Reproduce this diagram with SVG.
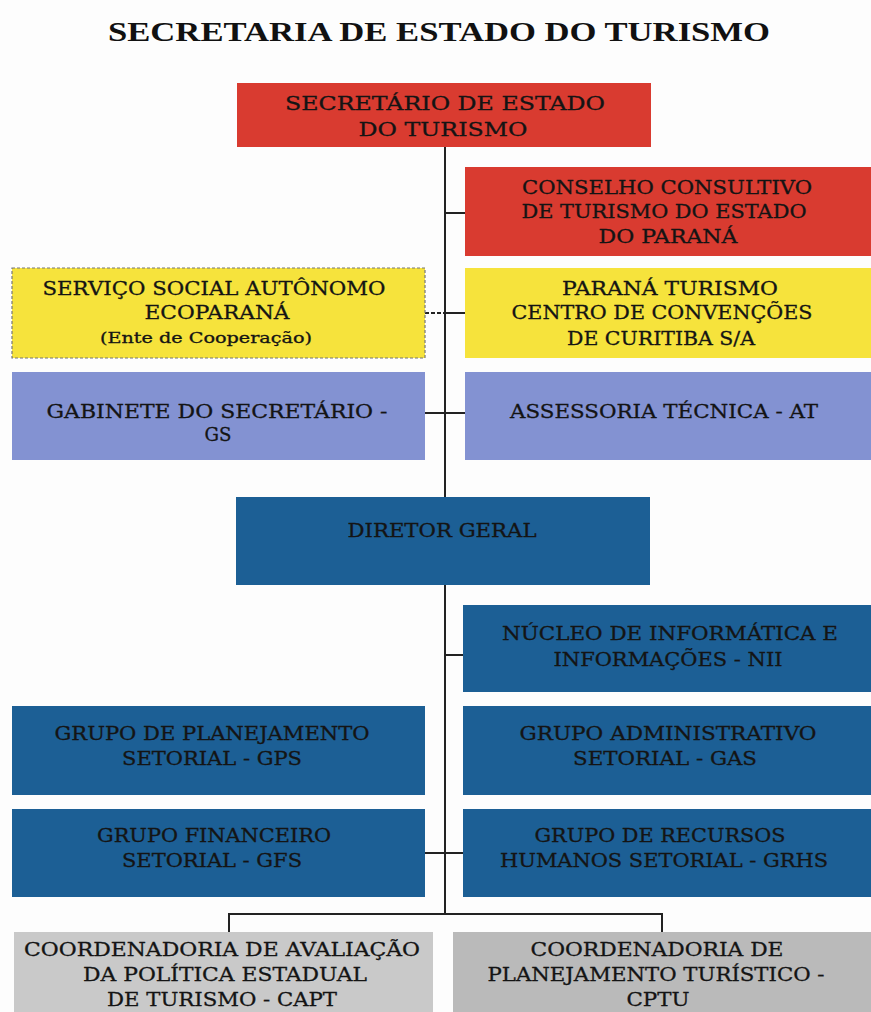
<svg xmlns="http://www.w3.org/2000/svg" width="871" height="1012" viewBox="0 0 871 1012">
<style>
.t{font-family:"DejaVu Serif","Liberation Serif",serif;font-size:19px;fill:#141414;text-anchor:middle;stroke:#141414;stroke-width:0.3}
.s{font-size:14px}
.title{font-family:"Liberation Serif","Times New Roman",serif;font-size:28px;font-weight:bold;fill:#111;text-anchor:middle}
.red{fill:#d93b30}
.yel{fill:#f6e33c}
.lav{fill:#8392d2}
.dbl{fill:#1c5f95}
.gr1{fill:#c9c9c9}
.gr2{fill:#bababa}
.ln{stroke:#222;stroke-width:2;fill:none}
</style>
<rect width="871" height="1012" fill="#fdfdfd"/>
<text class="title" x="439" y="41" textLength="662" lengthAdjust="spacingAndGlyphs">SECRETARIA DE ESTADO DO TURISMO</text>
<g id="connectors">
<line class="ln" x1="445" y1="147" x2="445" y2="497"/>
<line class="ln" x1="445" y1="213" x2="465" y2="213"/>
<line class="ln" x1="425" y1="313" x2="445" y2="313" stroke-dasharray="4,2"/>
<line class="ln" x1="445" y1="313" x2="465" y2="313"/>
<line class="ln" x1="425" y1="413" x2="465" y2="413"/>
<line class="ln" x1="445" y1="585" x2="445" y2="914"/>
<line class="ln" x1="445" y1="655" x2="463" y2="655"/>
<line class="ln" x1="425" y1="853" x2="463" y2="853"/>
<polyline class="ln" points="229,932 229,914 662,914 662,932"/>
</g>
<g id="secretario"><rect class="red" x="237" y="83" width="414" height="64"/>
<text class="t" x="445" y="110" textLength="320" lengthAdjust="spacingAndGlyphs">SECRETÁRIO DE ESTADO</text><text class="t" x="443" y="136" textLength="169" lengthAdjust="spacingAndGlyphs">DO TURISMO</text></g>
<g id="conselho"><rect class="red" x="465" y="167" width="406" height="89"/>
<text class="t" x="667" y="194" textLength="290" lengthAdjust="spacingAndGlyphs">CONSELHO CONSULTIVO</text><text class="t" x="664" y="218" textLength="285" lengthAdjust="spacingAndGlyphs">DE TURISMO DO ESTADO</text><text class="t" x="668" y="243" textLength="139" lengthAdjust="spacingAndGlyphs">DO PARANÁ</text></g>
<g id="ecoparana"><rect class="yel" x="12" y="268" width="413" height="90" stroke="#777" stroke-width="1.2" stroke-dasharray="3,2"/>
<text class="t" x="214" y="295" textLength="343" lengthAdjust="spacingAndGlyphs">SERVIÇO SOCIAL AUTÔNOMO</text><text class="t" x="217" y="319" textLength="145" lengthAdjust="spacingAndGlyphs">ECOPARANÁ</text><text class="t s" x="206" y="343" textLength="212" lengthAdjust="spacingAndGlyphs">(Ente de Cooperação)</text></g>
<g id="paranaturismo"><rect class="yel" x="465" y="268" width="406" height="90"/>
<text class="t" x="670" y="295" textLength="216" lengthAdjust="spacingAndGlyphs">PARANÁ TURISMO</text><text class="t" x="662" y="319" textLength="301" lengthAdjust="spacingAndGlyphs">CENTRO DE CONVENÇÕES</text><text class="t" x="661" y="345" textLength="188" lengthAdjust="spacingAndGlyphs">DE CURITIBA S/A</text></g>
<g id="gabinete"><rect class="lav" x="12" y="372" width="413" height="88"/>
<text class="t" x="217" y="418" textLength="341" lengthAdjust="spacingAndGlyphs">GABINETE DO SECRETÁRIO -</text><text class="t" x="218" y="441" textLength="27" lengthAdjust="spacingAndGlyphs">GS</text></g>
<g id="assessoria"><rect class="lav" x="465" y="372" width="406" height="88"/>
<text class="t" x="664" y="418" textLength="308" lengthAdjust="spacingAndGlyphs">ASSESSORIA TÉCNICA - AT</text></g>
<g id="diretor"><rect class="dbl" x="236" y="497" width="414" height="88"/>
<text class="t" x="442" y="537" textLength="189" lengthAdjust="spacingAndGlyphs">DIRETOR GERAL</text></g>
<g id="nii"><rect class="dbl" x="463" y="605" width="408" height="87"/>
<text class="t" x="670" y="640" textLength="336" lengthAdjust="spacingAndGlyphs">NÚCLEO DE INFORMÁTICA E</text><text class="t" x="668" y="666" textLength="229" lengthAdjust="spacingAndGlyphs">INFORMAÇÕES - NII</text></g>
<g id="gps"><rect class="dbl" x="12" y="706" width="413" height="89"/>
<text class="t" x="212" y="740" textLength="315" lengthAdjust="spacingAndGlyphs">GRUPO DE PLANEJAMENTO</text><text class="t" x="212" y="765" textLength="180" lengthAdjust="spacingAndGlyphs">SETORIAL - GPS</text></g>
<g id="gas"><rect class="dbl" x="463" y="706" width="408" height="89"/>
<text class="t" x="668" y="740" textLength="297" lengthAdjust="spacingAndGlyphs">GRUPO ADMINISTRATIVO</text><text class="t" x="665" y="765" textLength="184" lengthAdjust="spacingAndGlyphs">SETORIAL - GAS</text></g>
<g id="gfs"><rect class="dbl" x="12" y="809" width="413" height="88"/>
<text class="t" x="214" y="842" textLength="234" lengthAdjust="spacingAndGlyphs">GRUPO FINANCEIRO</text><text class="t" x="212" y="867" textLength="180" lengthAdjust="spacingAndGlyphs">SETORIAL - GFS</text></g>
<g id="grhs"><rect class="dbl" x="463" y="809" width="408" height="88"/>
<text class="t" x="660" y="842" textLength="251" lengthAdjust="spacingAndGlyphs">GRUPO DE RECURSOS</text><text class="t" x="664" y="867" textLength="328" lengthAdjust="spacingAndGlyphs">HUMANOS SETORIAL - GRHS</text></g>
<g id="capt"><rect class="gr1" x="14" y="932" width="419" height="80"/>
<text class="t" x="222" y="956" textLength="396" lengthAdjust="spacingAndGlyphs">COORDENADORIA DE AVALIAÇÃO</text><text class="t" x="225" y="981" textLength="284" lengthAdjust="spacingAndGlyphs">DA POLÍTICA ESTADUAL</text><text class="t" x="222" y="1006" textLength="230" lengthAdjust="spacingAndGlyphs">DE TURISMO - CAPT</text></g>
<g id="cptu"><rect class="gr2" x="453" y="932" width="418" height="80"/>
<text class="t" x="657" y="956" textLength="253" lengthAdjust="spacingAndGlyphs">COORDENADORIA DE</text><text class="t" x="656" y="981" textLength="337" lengthAdjust="spacingAndGlyphs">PLANEJAMENTO TURÍSTICO -</text><text class="t" x="658" y="1006" textLength="63" lengthAdjust="spacingAndGlyphs">CPTU</text></g>
</svg>
